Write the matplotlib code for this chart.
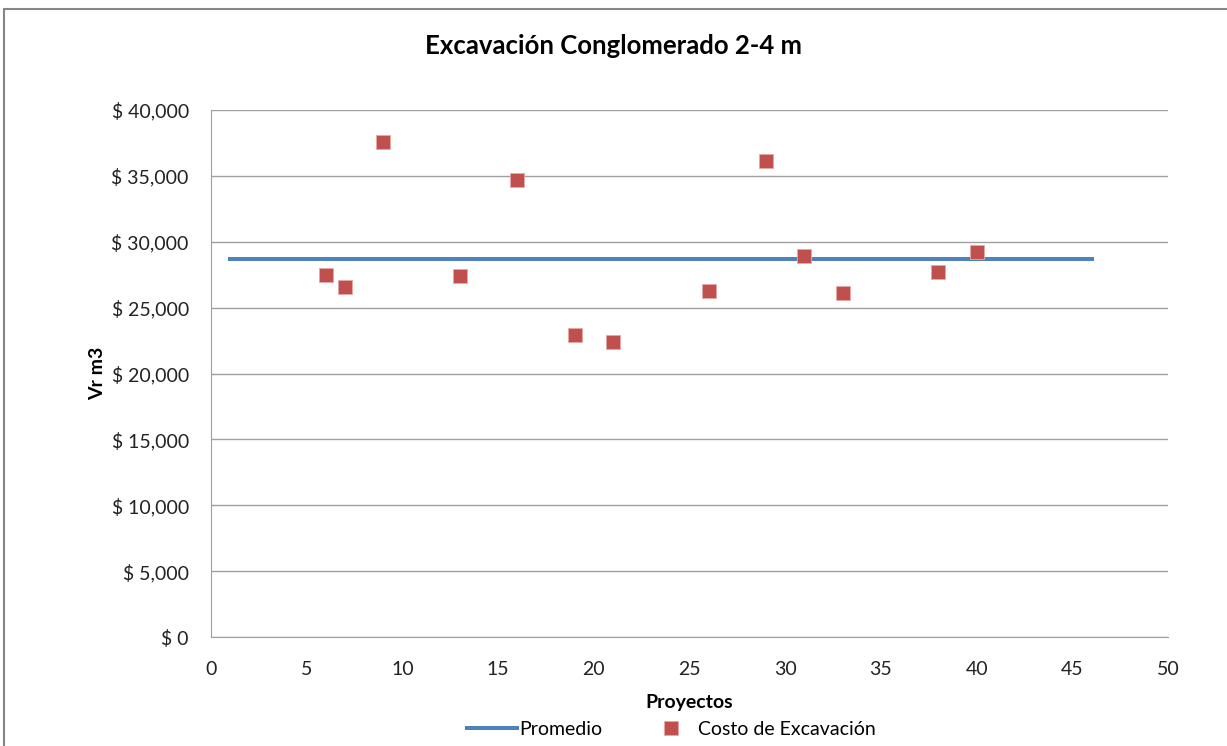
import matplotlib
matplotlib.use("Agg")
import matplotlib.pyplot as plt
from matplotlib.patches import Rectangle
from matplotlib.ticker import FuncFormatter, MultipleLocator

plt.rcParams['font.family'] = ['Lato', 'DejaVu Sans']

proyectos = [6, 7, 9, 13, 16, 19, 21, 26, 29, 31, 33, 38, 40]
costo = [27500, 26600, 37600, 27400, 34700, 22900, 22400, 26300, 36100, 28900, 26100, 27700, 29200]
promedio_x = [1, 46]
promedio_y = [28700, 28700]

fig = plt.figure(figsize=(12.27, 7.46), dpi=100)
ax = fig.add_axes([0.172, 0.146, 0.780, 0.7065])

ax.plot(promedio_x, promedio_y, color='#4F81BD', lw=2.9, label='Promedio', zorder=3)
ax.plot(proyectos, costo, ls='none', marker='s', ms=9.5, color='#C0504D',
        markeredgecolor='#E8A8A6', markeredgewidth=0.6, label='Costo de Excavación', zorder=4)

ax.set_xlim(0, 50)
ax.set_ylim(0, 40000)
ax.xaxis.set_major_locator(MultipleLocator(5))
ax.yaxis.set_major_locator(MultipleLocator(5000))
ax.yaxis.set_major_formatter(FuncFormatter(lambda v, p: f"$ {int(v):,}"))
ax.grid(axis='y', color='#A0A0A0', lw=1)
ax.set_axisbelow(True)
for s in ['top', 'right']:
    ax.spines[s].set_visible(False)
for s in ['left', 'bottom']:
    ax.spines[s].set_color('#A0A0A0')
ax.tick_params(axis='both', labelsize=14, length=0, labelcolor='#222222')
ax.tick_params(axis='y', pad=16)
ax.tick_params(axis='x', pad=17)

ax.set_xlabel('Proyectos', fontsize=14, fontweight='bold', labelpad=12)
ax.set_ylabel('Vr m3', fontsize=14, fontweight='bold', labelpad=4)
fig.text(0.5, 0.938, 'Excavación Conglomerado 2-4 m', ha='center', va='center',
         fontsize=18.5, fontweight='bold')

handles, labels = ax.get_legend_handles_labels()
fig.legend(handles, labels, loc='center', bbox_to_anchor=(0.547, 0.022), ncol=2,
           frameon=False, fontsize=14, handlelength=2.6, handletextpad=0.1,
           columnspacing=2.2)

fig.patches.append(Rectangle((0.003, -0.01), 1.1, 0.998, transform=fig.transFigure,
                             fill=False, edgecolor='#868686', lw=1.5))

fig.savefig('out.png', dpi=100)
